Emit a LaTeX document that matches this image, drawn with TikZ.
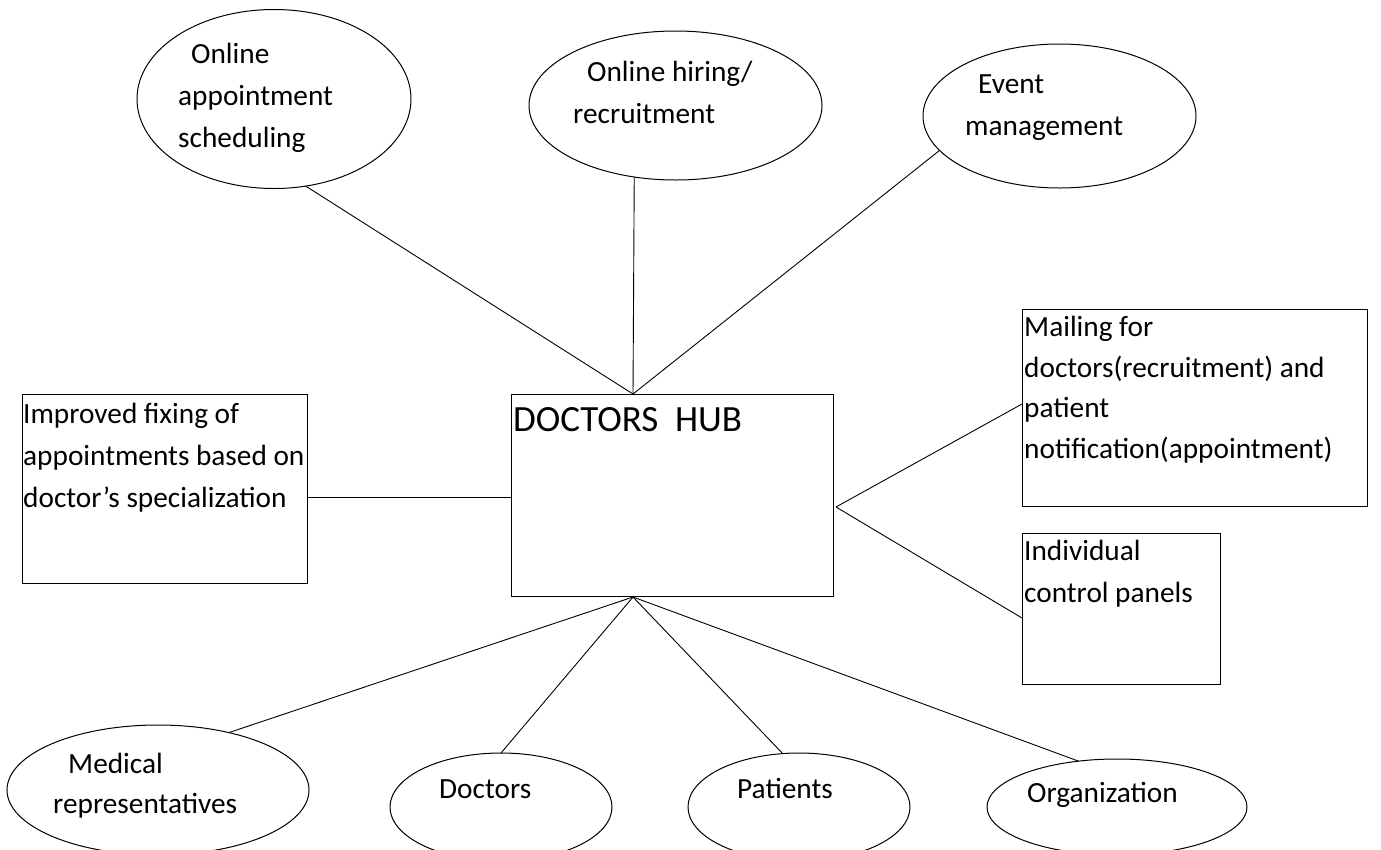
\documentclass[tikz,border=0pt]{standalone}
\usepackage{fontspec}
\setmainfont{Carlito}
\usetikzlibrary{shapes.geometric}
\tikzset{
  bubble/.style={draw, ellipse, inner sep=0pt, outer sep=0pt, line width=1pt},
  box/.style={draw, rectangle, inner sep=0pt, outer sep=0pt, line width=1pt},
  txt/.style={anchor=base west, align=left, inner sep=0pt, font=\fontsize{29.3}{42}\selectfont},
  link/.style={line width=0.9pt}
}

\begin{document}
\begin{tikzpicture}[x=1pt, y=-1pt]
    \useasboundingbox (0,0) rectangle (1381,849);
    \clip (0,0) rectangle (1381,849);
    \fill[white] (0,0) rectangle (1381,849);
    % centre (text nodes sit on the baseline of their last line)
    \node[box, minimum width=322, minimum height=202] (hub) at (672,495) {};
    \node[txt, font=\fontsize{37}{44}\selectfont] (hubtxt) at (513,431) {DOCTORS\ \ HUB};
    \coordinate (hubtop) at (633,394);
    \coordinate (hubbot) at (633,597);
    \coordinate (hubright) at (836,507);
    % top
    \node[bubble, minimum width=274, minimum height=179] (sched) at (274,99) {};
    \node[txt] (schedtxt) at (178,147) {\hspace*{13pt}Online\\appointment\\scheduling};
    \node[bubble, minimum width=293, minimum height=149] (hiring) at (675.5,105.5) {};
    \node[txt] (hiringtxt) at (573,123) {\hspace*{14pt}Online hiring/\\recruitment};
    \node[bubble, minimum width=273, minimum height=144] (event) at (1059.5,116) {};
    \node[txt] (eventtxt) at (965,135) {\hspace*{13pt}Event\\management};
    % sides
    \node[box, minimum width=285, minimum height=189] (improve) at (164.5,488.5) {};
    \node[txt] (improvetxt) at (23,507) {Improved fixing of\\appointments based on\\doctor’s specialization};
    \node[box, minimum width=345, minimum height=197] (mail) at (1194.5,407.5) {};
    \node[txt, font=\fontsize{29.3}{40.5}\selectfont] (mailtxt) at (1024,458) {Mailing for\\doctors(recruitment) and\\patient\\notification(appointment)};
    \node[box, minimum width=198, minimum height=151] (panels) at (1121,608.5) {};
    \node[txt] (panelstxt) at (1024,602) {Individual\\control panels};
    % bottom
    \node[bubble, minimum width=302, minimum height=130] (medrep) at (158,790) {};
    \node[txt, font=\fontsize{29.3}{40}\selectfont] (medreptxt) at (53,813) {\hspace*{15pt}Medical\\representatives};
    \node[bubble, minimum width=222, minimum height=108] (doctors) at (501,807) {};
    \node[txt] (doctorstxt) at (439,798) {Doctors};
    \node[bubble, minimum width=222, minimum height=108] (patients) at (799,807) {};
    \node[txt] (patientstxt) at (737,798) {Patients};
    \node[bubble, minimum width=260, minimum height=96] (org) at (1117,807) {};
    \node[txt] (orgtxt) at (1027,802) {Organization};
    % links
    \draw[link] (sched.-70) -- (hubtop);
    \draw[link] (hiring.-120) -- (hubtop);
    \draw[link] (event.-164) -- (hubtop);
    \draw[link] (improve.east |- 0,497) -- (hub.west |- 0,497);
    \draw[link] (hubright) -- (mail.west |- 0,404);
    \draw[link] (hubright) -- (panels.west |- 0,618);
    \draw[link] (hubbot) -- (medrep.39);
    \draw[link] (hubbot) -- (doctors.north);
    \draw[link] (hubbot) -- (patients.107);
    \draw[link] (hubbot) -- (org.130);
\end{tikzpicture}
\end{document}
